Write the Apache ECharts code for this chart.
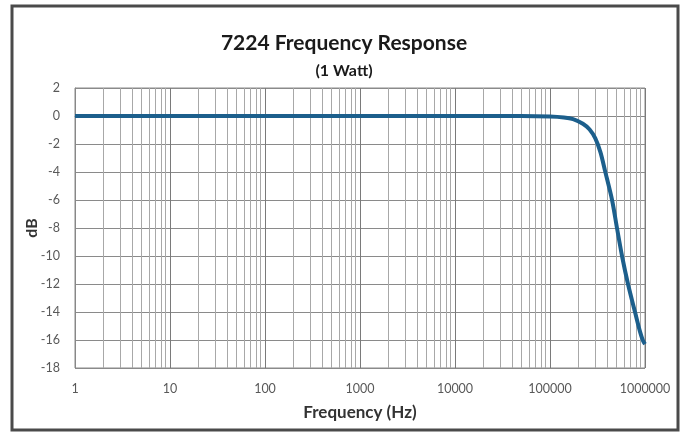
<!DOCTYPE html>
<html>
<head>
<meta charset="utf-8">
<script src="https://cdn.jsdelivr.net/npm/echarts@6/dist/echarts.min.js"></script>
<style>
  html, body { margin: 0; padding: 0; background: #fff; }
  #chart { width: 688px; height: 433px; }
</style>
</head>
<body>
<div id="chart"></div>
<script>
// 频率 (Hz) 与响应 (dB)
const freqHz = [1, 10, 100, 1000, 10000, 50000, 100000, 140000, 175000, 222000, 260000, 300000, 340000, 379000, 450000, 507000, 573000, 662000, 785000, 886000, 953000, 1000000];
const responseDb = [0, 0, 0, 0, 0, 0, -0.03, -0.1, -0.22, -0.55, -0.95, -1.6, -2.6, -3.9, -6, -8, -10, -12, -14, -15.4, -16.05, -16.3];

// 对数刻度的次网格线 2..9 × 10^k
const minorGrid = [];
for (let k = 0; k < 6; k++) {
  for (let m = 2; m <= 9; m++) minorGrid.push(m * Math.pow(10, k));
}

const FONT = "Lato, 'Noto Sans', sans-serif";

const chart = echarts.init(document.getElementById("chart"));
chart.setOption({
  animation: false,
  backgroundColor: "#fff",
  textStyle: { fontFamily: FONT },
  graphic: [
    {
      type: "rect",
      silent: true,
      shape: { x: 12, y: 6, width: 666, height: 424 },
      style: { fill: "none", stroke: "#4a4a4a", lineWidth: 3 },
    },
  ],
  title: [
    {
      text: "7224 Frequency Response",
      left: "center",
      top: 28,
      textStyle: { fontSize: 21, fontWeight: "bold", color: "#1a1a1a", fontFamily: FONT },
    },
    {
      text: "(1 Watt)",
      left: "center",
      top: 58,
      textStyle: { fontSize: 16, fontWeight: "bold", color: "#1a1a1a", fontFamily: FONT },
    },
  ],
  grid: {
    left: 75,
    right: 43,
    top: 88,
    bottom: 65,
    show: true,
    borderColor: "#8a8a8a",
    borderWidth: 1,
  },
  xAxis: {
    type: "log",
    logBase: 10,
    min: 1,
    max: 1000000,
    name: "Frequency (Hz)",
    nameLocation: "middle",
    nameGap: 36,
    nameMoveOverlap: false,
    nameTextStyle: { fontSize: 17, fontWeight: "bold", color: "#333", fontFamily: FONT },
    axisLine: { lineStyle: { color: "#888" } },
    axisTick: { show: false },
    axisLabel: { color: "#595959", fontSize: 12.5, margin: 14, formatter: (v) => String(v) },
    splitLine: { show: true, lineStyle: { color: "#7a7a7a", width: 1 } },
  },
  yAxis: {
    type: "value",
    min: -18,
    max: 2,
    interval: 2,
    name: "dB",
    nameLocation: "middle",
    nameRotate: 90,
    nameGap: 35,
    nameMoveOverlap: false,
    nameTextStyle: { fontSize: 16, fontWeight: "bold", color: "#333", fontFamily: FONT },
    axisLine: { show: true, lineStyle: { color: "#888" } },
    axisTick: { show: false },
    axisLabel: { color: "#595959", fontSize: 12.5, margin: 15 },
    splitLine: { show: true, lineStyle: { color: "#8a8a8a", width: 1 } },
  },
  series: [
    {
      type: "line",
      data: freqHz.map((f, i) => [f, responseDb[i]]),
      showSymbol: false,
      smooth: 0.3,
      lineStyle: { color: "#1c5f8c", width: 4 },
      z: 5,
      markLine: {
        silent: true,
        symbol: "none",
        label: { show: false },
        lineStyle: { color: "#a8a8a8", width: 1, type: "solid" },
        data: minorGrid.map((v) => ({ xAxis: v })),
        z: 1,
      },
    },
  ],
});
</script>
</body>
</html>
